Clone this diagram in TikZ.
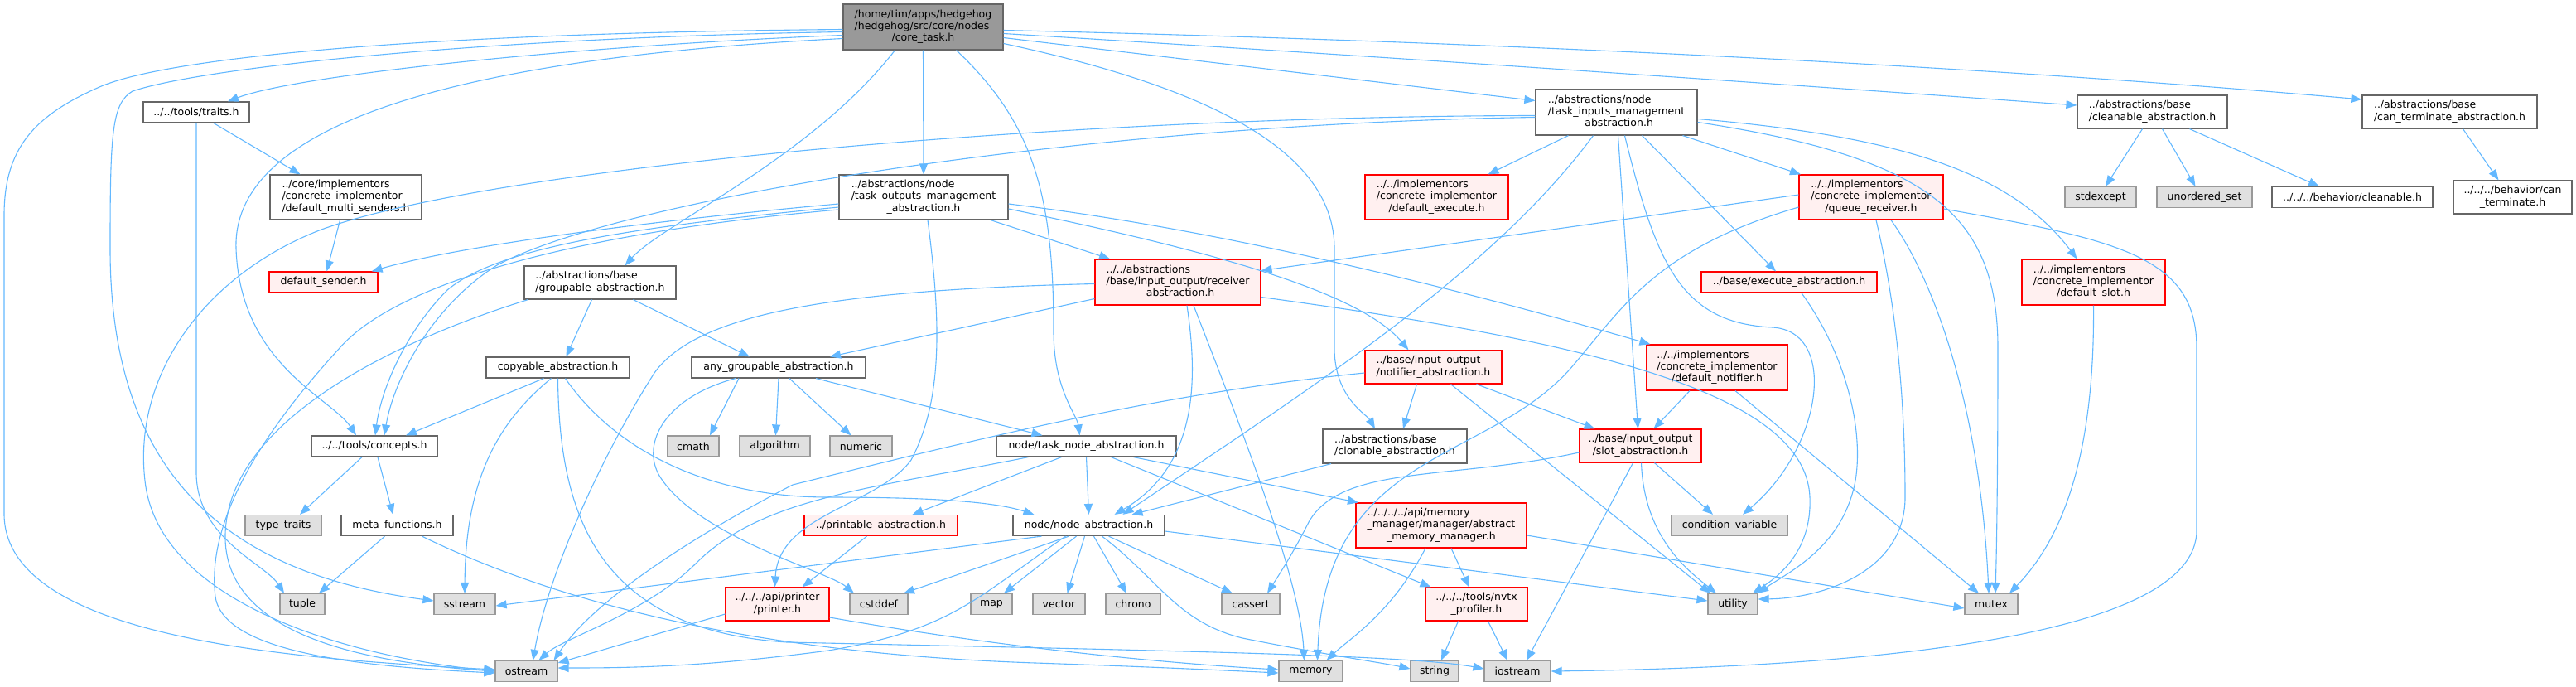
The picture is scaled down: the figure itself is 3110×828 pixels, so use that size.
\documentclass[tikz,border=0pt]{standalone}
\usepackage{fontspec}
\setmainfont{DejaVu Sans}
\usetikzlibrary{arrows.meta}

\definecolor{edgeblue}{HTML}{63B8FF}
\definecolor{boxgray}{HTML}{666666}
\definecolor{redfill}{HTML}{FFF0F0}
\definecolor{sysfill}{HTML}{E0E0E0}
\definecolor{sysgray}{HTML}{999999}
\definecolor{rootfill}{HTML}{999999}

% two / three line labels: upper lines flush left, last line centred
\newcommand{\labtwo}[2]{\begin{tabular}{@{}l@{}}#1\\\multicolumn{1}{@{}c@{}}{#2}\end{tabular}}
\newcommand{\labthree}[3]{\begin{tabular}{@{}l@{}}#1\\#2\\\multicolumn{1}{@{}c@{}}{#3}\end{tabular}}

\begin{document}
\begin{tikzpicture}[
    x=1pt, y=-1pt,
    font=\fontsize{12.5}{14.3}\selectfont,
    box/.style={
        draw=boxgray,
        fill=white,
        line width=1.2pt,
        inner sep=0pt,
        minimum height=25pt
    },
    redbox/.style={box, draw=red, fill=redfill},
    sysbox/.style={box, draw=sysgray, fill=sysfill},
    rootbox/.style={box, draw=boxgray, fill=rootfill},
    arrow/.style={draw=edgeblue, line width=1.1pt, -{Triangle[length=13pt,width=10pt]}}
]
\useasboundingbox (0,0) rectangle (3110,828);

% ---------------------------------------------------------------------------
% Root and first level
% ---------------------------------------------------------------------------
\node[rootbox, minimum width=193pt, minimum height=55pt] (core) at (1114.5,32.5)
    {\labthree{/home/tim/apps/hedgehog}{/hedgehog/src/core/nodes}{/core\_task.h}};

\node[box, minimum width=128pt] (traits) at (237,135.5) {../../tools/traits.h};
\node[box, minimum width=195pt, minimum height=55pt] (inputs) at (1951.5,135.5)
    {\labthree{../abstractions/node}{/task\_inputs\_management}{\_abstraction.h}};
\node[box, minimum width=181pt, minimum height=40pt] (cleanable) at (2598.5,135)
    {\labtwo{../abstractions/base}{/cleanable\_abstraction.h}};
\node[box, minimum width=211pt, minimum height=40pt] (canterm) at (2957.5,135)
    {\labtwo{../abstractions/base}{/can\_terminate\_abstraction.h}};

% ---------------------------------------------------------------------------
% Row at y = 238
% ---------------------------------------------------------------------------
\node[box, minimum width=183pt, minimum height=54pt] (multisend) at (417.5,238)
    {\labthree{../core/implementors}{/concrete\_implementor}{/default\_multi\_senders.h}};
\node[box, minimum width=204pt, minimum height=54pt] (outputs) at (1115,238)
    {\labthree{../abstractions/node}{/task\_outputs\_management}{\_abstraction.h}};
\node[redbox, minimum width=173pt, minimum height=54pt] (defexecute) at (1734.5,238)
    {\labthree{../../implementors}{/concrete\_implementor}{/default\_execute.h}};
\node[redbox, minimum width=174pt, minimum height=54pt] (queue) at (2259,238)
    {\labthree{../../implementors}{/concrete\_implementor}{/queue\_receiver.h}};
\node[sysbox, minimum width=86pt] (stdexcept) at (2536,238) {stdexcept};
\node[sysbox, minimum width=115pt] (unordered) at (2661.5,238) {unordered\_set};
\node[box, minimum width=194pt] (behclean) at (2840,238) {../../../behavior/cleanable.h};
\node[box, minimum width=143pt, minimum height=40pt] (behcanterm) at (3033.5,238)
    {\labtwo{../../../behavior/can}{\_terminate.h}};

% ---------------------------------------------------------------------------
% Row at y = 340
% ---------------------------------------------------------------------------
\node[redbox, minimum width=131pt] (sender) at (390.5,340.5) {default\_sender.h};
\node[box, minimum width=183pt, minimum height=40pt] (groupable) at (724.5,341)
    {\labtwo{../abstractions/base}{/groupable\_abstraction.h}};
\node[redbox, minimum width=200pt, minimum height=55pt] (receiver) at (1422,340.5)
    {\labthree{../../abstractions}{/base/input\_output/receiver}{\_abstraction.h}};
\node[redbox, minimum width=212pt] (execabs) at (2160,340.5) {../base/execute\_abstraction.h};
\node[redbox, minimum width=173pt, minimum height=55pt] (defslot) at (2527.5,340.5)
    {\labthree{../../implementors}{/concrete\_implementor}{/default\_slot.h}};

% ---------------------------------------------------------------------------
% Row at y = 443
% ---------------------------------------------------------------------------
\node[box, minimum width=173pt] (copyable) at (673.5,443.5) {copyable\_abstraction.h};
\node[box, minimum width=210pt] (anygroup) at (940,443.5) {any\_groupable\_abstraction.h};
\node[redbox, minimum width=165pt, minimum height=40pt] (notifier) at (1730.5,443)
    {\labtwo{../base/input\_output}{/notifier\_abstraction.h}};
\node[redbox, minimum width=170pt, minimum height=55pt] (defnotifier) at (2073,443.5)
    {\labthree{../../implementors}{/concrete\_implementor}{/default\_notifier.h}};

% ---------------------------------------------------------------------------
% Row at y = 538
% ---------------------------------------------------------------------------
\node[box, minimum width=152pt] (concepts) at (452,538.5) {../../tools/concepts.h};
\node[sysbox, minimum width=62pt] (cmath) at (837,538.5) {cmath};
\node[sysbox, minimum width=85pt] (algorithm) at (935.5,538.5) {algorithm};
\node[sysbox, minimum width=75pt] (numeric) at (1039.5,538.5) {numeric};
\node[box, minimum width=217pt] (tasknode) at (1311.5,538.5) {node/task\_node\_abstraction.h};
\node[box, minimum width=174pt, minimum height=41pt] (clonable) at (1684,538.5)
    {\labtwo{../abstractions/base}{/clonable\_abstraction.h}};
\node[redbox, minimum width=147pt, minimum height=40pt] (slot) at (1980.5,538)
    {\labtwo{../base/input\_output}{/slot\_abstraction.h}};

% ---------------------------------------------------------------------------
% Row at y = 634
% ---------------------------------------------------------------------------
\node[sysbox, minimum width=92pt] (typetraits) at (342,634) {type\_traits};
\node[box, minimum width=135pt] (metafun) at (479.5,634) {meta\_functions.h};
\node[redbox, minimum width=185pt] (printable) at (1063.5,634) {../printable\_abstraction.h};
\node[box, minimum width=183pt] (nodeabs) at (1314.5,634) {node/node\_abstraction.h};
\node[redbox, minimum width=206pt, minimum height=54pt] (absmem) at (1740,634)
    {\labthree{../../../../api/memory}{\_manager/manager/abstract}{\_memory\_manager.h}};
\node[sysbox, minimum width=140pt] (condvar) at (2088,634) {condition\_variable};

% ---------------------------------------------------------------------------
% Row at y = 729
% ---------------------------------------------------------------------------
\node[sysbox, minimum width=54pt] (tuple) at (365,729) {tuple};
\node[sysbox, minimum width=74pt] (sstream) at (561,729) {sstream};
\node[redbox, minimum width=125pt, minimum height=40pt] (printer) at (938.5,729)
    {\labtwo{../../../api/printer}{/printer.h}};
\node[sysbox, minimum width=70pt] (cstddef) at (1061,729) {cstddef};
\node[sysbox, minimum width=50pt] (map) at (1197,729) {map};
\node[sysbox, minimum width=63pt] (vector) at (1278.5,729) {vector};
\node[sysbox, minimum width=66pt] (chrono) at (1368,729) {chrono};
\node[sysbox, minimum width=70pt] (cassert) at (1510,729) {cassert};
\node[redbox, minimum width=123pt, minimum height=40pt] (nvtx) at (1782.5,729)
    {\labtwo{../../../tools/nvtx}{\_profiler.h}};
\node[sysbox, minimum width=60pt] (utility) at (2092,729) {utility};
\node[sysbox, minimum width=64pt] (mutex) at (2404,729) {mutex};

% ---------------------------------------------------------------------------
% Bottom row
% ---------------------------------------------------------------------------
\node[sysbox, minimum width=75pt] (ostream) at (635.5,810) {ostream};
\node[sysbox, minimum width=77pt] (memory) at (1582.5,810) {memory};
\node[sysbox, minimum width=58pt] (string) at (1732,810) {string};
\node[sysbox, minimum width=80pt] (iostream) at (1832,810) {iostream};

% ---------------------------------------------------------------------------
% Arrows -- from core_task.h
% ---------------------------------------------------------------------------
\draw[arrow] ([yshift=-10pt]core.west) .. controls (700,55) and (360,90) .. ([xshift=38pt]traits.north);
\draw[arrow] ([yshift=-14pt]core.west) .. controls (550,70) and (280,150) .. (285,300)
    .. controls (290,440) and (400,480) .. ([xshift=-22pt]concepts.north);
\draw[arrow] ([yshift=-3pt]core.west) .. controls (500,40) and (200,70) .. (120,105)
    .. controls (40,140) and (5,180) .. (5,260) -- (5,620)
    .. controls (5,770) and (350,795) .. ([yshift=2pt]ostream.west);
\draw[arrow] ([yshift=-6pt]core.west) .. controls (600,45) and (250,80) .. (160,110)
    .. controls (135,125) and (133,160) .. (133,300)
    .. controls (133,560) and (260,690) .. ([yshift=4pt]sstream.west);
\draw[arrow] (core.south) -- (outputs.north);
\draw[arrow] ([xshift=-34pt]core.south) .. controls (980,190) and (800,270) .. ([xshift=30pt]groupable.north);
\draw[arrow] ([xshift=40pt]core.south) .. controls (1250,150) and (1272,240) .. (1272,400)
    .. controls (1272,470) and (1300,500) .. ([xshift=-8pt]tasknode.north);
\draw[arrow] ([yshift=-20pt]core.east) .. controls (1480,110) and (1611,190) .. (1611,300) -- (1611,420)
    .. controls (1611,480) and (1650,500) .. ([xshift=-24pt]clonable.north);
\draw[arrow] ([yshift=-13pt]core.east) -- ([yshift=14pt]inputs.west);
\draw[arrow] ([yshift=-8pt]core.east) .. controls (1700,70) and (2200,105) .. ([yshift=8pt]cleanable.west);
\draw[arrow] ([yshift=-4pt]core.east) .. controls (1800,50) and (2400,80) .. ([yshift=15pt]canterm.west);

% ---------------------------------------------------------------------------
% Arrows -- traits, senders, groupable
% ---------------------------------------------------------------------------
\draw[arrow] ([xshift=21pt]traits.south) -- ([xshift=-55pt]multisend.north);
\draw[arrow] (traits.south) -- (237,570) .. controls (237,650) and (320,680) .. ([xshift=-22pt]tuple.north);
\draw[arrow] ([xshift=-7pt]multisend.south) -- ([xshift=4pt]sender.north);
\draw[arrow] ([xshift=-10pt]groupable.south) -- ([xshift=10pt]copyable.north);
\draw[arrow] ([xshift=40pt]groupable.south) -- ([xshift=-35pt]anygroup.north);
\draw[arrow] ([xshift=5pt]groupable.south west) .. controls (450,420) and (270,520) .. (272,650)
    .. controls (274,770) and (450,800) .. (ostream.west);

% ---------------------------------------------------------------------------
% Arrows -- task_outputs_management_abstraction.h
% ---------------------------------------------------------------------------
\draw[arrow] ([yshift=-8pt]outputs.west) .. controls (800,265) and (560,295) .. ([xshift=-8pt]sender.north east);
\draw[arrow] ([yshift=-12pt]outputs.west) .. controls (750,275) and (600,300) .. (540,350)
    .. controls (490,400) and (460,470) .. ([xshift=1pt]concepts.north);
\draw[arrow] ([yshift=-15pt]outputs.west) .. controls (700,280) and (480,340) .. (410,420)
    .. controls (300,540) and (250,640) .. (260,720)
    .. controls (270,790) and (450,805) .. ([yshift=-2pt]ostream.west);
\draw[arrow] ([xshift=81pt]outputs.south) -- ([xshift=-82pt]receiver.north);
\draw[arrow] ([xshift=5pt]outputs.south) .. controls (1135,380) and (1140,480) .. (1100,555)
    .. controls (1060,610) and (940,620) .. ([xshift=-3pt]printer.north);
\draw[arrow] ([yshift=-14pt]outputs.east) .. controls (1450,300) and (1640,350) .. ([xshift=-30pt]notifier.north);
\draw[arrow] ([yshift=-8pt]outputs.east) .. controls (1500,280) and (1800,360) .. ([xshift=5pt]defnotifier.north west);

% ---------------------------------------------------------------------------
% Arrows -- receiver_abstraction.h
% ---------------------------------------------------------------------------
\draw[arrow] ([yshift=-20pt]receiver.west) -- ([xshift=62pt]anygroup.north);
\draw[arrow] ([yshift=-2pt]receiver.west) .. controls (1000,350) and (840,380) .. (790,450)
    .. controls (720,560) and (660,700) .. ([xshift=8pt]ostream.north);
\draw[arrow] ([xshift=11pt]receiver.south) .. controls (1445,450) and (1450,560) .. ([xshift=31pt]nodeabs.north);
\draw[arrow] ([xshift=19pt]receiver.south) .. controls (1500,520) and (1570,700) .. ([xshift=-8pt]memory.north);
\draw[arrow] ([yshift=-18pt]receiver.east) .. controls (1900,410) and (2180,470) .. (2185,600)
    .. controls (2188,670) and (2140,700) .. ([xshift=24pt]utility.north);

% ---------------------------------------------------------------------------
% Arrows -- task_inputs_management_abstraction.h
% ---------------------------------------------------------------------------
\draw[arrow] ([xshift=-58pt]inputs.south) -- ([xshift=62pt]defexecute.north);
\draw[arrow] ([xshift=80pt]inputs.south) -- ([xshift=-85pt]queue.north);
\draw[arrow] ([xshift=31pt]inputs.south) -- ([xshift=-16pt]execabs.north);
\draw[arrow] ([xshift=2pt]inputs.south) -- ([xshift=-3pt]slot.north);
\draw[arrow] ([xshift=10pt]inputs.south) .. controls (2000,320) and (2030,390) .. (2140,395)
    .. controls (2220,400) and (2200,540) .. ([xshift=16pt]condvar.north);
\draw[arrow] ([xshift=-28pt]inputs.south) .. controls (1800,330) and (1580,470) .. ([xshift=41pt]nodeabs.north);
\draw[arrow] ([yshift=-4pt]inputs.west) .. controls (1300,140) and (600,200) .. (388,277)
    .. controls (250,330) and (160,450) .. (175,580) .. controls (190,720) and (400,790) .. (ostream.west);
\draw[arrow] ([yshift=-6pt]inputs.west) .. controls (1300,150) and (750,240) .. (600,320)
    .. controls (520,370) and (475,460) .. ([xshift=12pt]concepts.north);
\draw[arrow] ([yshift=-8pt]inputs.east) .. controls (2300,165) and (2430,210) .. ([xshift=-20pt]defslot.north);
\draw[arrow] ([yshift=-12pt]inputs.east) .. controls (2330,190) and (2412,260) .. (2412,420)
    .. controls (2412,600) and (2410,680) .. ([xshift=5pt]mutex.north);

% ---------------------------------------------------------------------------
% Arrows -- queue_receiver.h, execute_abstraction.h, default_slot.h
% ---------------------------------------------------------------------------
\draw[arrow] ([yshift=3pt]queue.west) -- ([yshift=14pt]receiver.east);
\draw[arrow] ([yshift=-12pt]queue.west) .. controls (2000,300) and (1960,370) .. (1900,440)
    .. controls (1800,560) and (1600,540) .. ([xshift=8pt]memory.north);
\draw[arrow] ([xshift=6pt]queue.south) .. controls (2285,350) and (2300,460) .. (2300,600)
    .. controls (2300,690) and (2200,722) .. ([yshift=6pt]utility.east);
\draw[arrow] ([xshift=24pt]queue.south) .. controls (2330,330) and (2390,480) .. ([xshift=-3pt]mutex.north);
\draw[arrow] ([yshift=-14pt]queue.east) .. controls (2560,290) and (2652,310) .. (2652,420) -- (2652,640)
    .. controls (2652,770) and (2250,805) .. (iostream.east);
\draw[arrow] ([xshift=15pt]execabs.south) .. controls (2230,430) and (2250,520) .. (2240,580)
    .. controls (2225,660) and (2160,690) .. ([xshift=30pt]utility.north);
\draw[arrow] (defslot.south) .. controls (2529,550) and (2490,650) .. ([xshift=22pt]mutex.north);

% ---------------------------------------------------------------------------
% Arrows -- cleanable and can_terminate
% ---------------------------------------------------------------------------
\draw[arrow] ([xshift=-12pt]cleanable.south) -- ([xshift=6pt]stdexcept.north);
\draw[arrow] ([xshift=12pt]cleanable.south) -- ([xshift=-11pt]unordered.north);
\draw[arrow] ([xshift=45pt]cleanable.south) -- ([xshift=-40pt]behclean.north);
\draw[arrow] ([xshift=16pt]canterm.south) -- ([xshift=-17pt]behcanterm.north);

% ---------------------------------------------------------------------------
% Arrows -- notifier, default_notifier, clonable, slot
% ---------------------------------------------------------------------------
\draw[arrow] ([xshift=-20pt]notifier.south) -- ([xshift=10pt]clonable.north);
\draw[arrow] ([xshift=52pt]notifier.south) -- ([xshift=-55pt]slot.north);
\draw[arrow] ([xshift=21pt]notifier.south) -- ([xshift=-27pt]utility.north);
\draw[arrow] ([yshift=-7pt]notifier.west) .. controls (1400,475) and (1200,525) .. (957,585)
    .. controls (850,640) and (720,720) .. ([xshift=-5pt]ostream.north east);
\draw[arrow] ([xshift=-33pt]defnotifier.south) -- ([xshift=16pt]slot.north);
\draw[arrow] ([xshift=22pt]defnotifier.south) -- ([xshift=-15pt]mutex.north);
\draw[arrow] ([xshift=-77pt]clonable.south) -- ([xshift=52pt]nodeabs.north);
\draw[arrow] ([xshift=17pt]slot.south) -- ([xshift=-20pt]condvar.north);
\draw[arrow] ([xshift=1pt]slot.south) .. controls (1985,650) and (2040,690) .. ([xshift=-20pt]utility.north);
\draw[arrow] ([xshift=-9pt]slot.south) -- ([xshift=11pt]iostream.north);
\draw[arrow] ([yshift=-8pt]slot.west) .. controls (1750,580) and (1620,560) .. (1580,630)
    .. controls (1560,670) and (1540,700) .. ([xshift=20pt]cassert.north);

% ---------------------------------------------------------------------------
% Arrows -- memory manager and profiler
% ---------------------------------------------------------------------------
\draw[arrow] ([xshift=12pt]absmem.south) -- ([xshift=-9pt]nvtx.north);
\draw[arrow] ([xshift=-19pt]absmem.south) .. controls (1680,740) and (1630,770) .. ([xshift=19pt]memory.north);
\draw[arrow] ([yshift=-12pt]absmem.east) -- ([yshift=-5pt]mutex.west);
\draw[arrow] ([xshift=-22pt]nvtx.south) -- ([xshift=8pt]string.north);
\draw[arrow] ([xshift=14pt]nvtx.south) -- ([xshift=-12pt]iostream.north);

% ---------------------------------------------------------------------------
% Arrows -- copyable, concepts, meta_functions
% ---------------------------------------------------------------------------
\draw[arrow] ([xshift=-17pt]copyable.south) -- ([xshift=38pt]concepts.north);
\draw[arrow] ([xshift=-8pt]copyable.south) .. controls (600,510) and (562,580) .. (sstream.north);
\draw[arrow] (copyable.south) .. controls (675,620) and (720,760) .. (950,775)
    .. controls (1400,785) and (1700,790) .. ([yshift=3pt]iostream.west);
\draw[arrow] ([xshift=9pt]copyable.south) .. controls (740,540) and (850,600) .. (1000,600)
    .. controls (1120,600) and (1200,605) .. ([xshift=-66pt]nodeabs.north);
\draw[arrow] ([xshift=-15pt]concepts.south) -- ([xshift=20pt]typetraits.north);
\draw[arrow] ([xshift=4pt]concepts.south) -- ([xshift=-5pt]metafun.north);
\draw[arrow] ([xshift=-15pt]metafun.south) -- ([xshift=20pt]tuple.north);
\draw[arrow] ([xshift=30pt]metafun.south) .. controls (700,740) and (950,790) .. (1250,800)
    .. controls (1400,805) and (1500,810) .. ([yshift=-2pt]memory.west);

% ---------------------------------------------------------------------------
% Arrows -- any_groupable and task_node
% ---------------------------------------------------------------------------
\draw[arrow] ([xshift=-48pt]anygroup.south) -- ([xshift=20pt]cmath.north);
\draw[arrow] (anygroup.south) -- ([xshift=1pt]algorithm.north);
\draw[arrow] ([xshift=13pt]anygroup.south) -- ([xshift=-12pt]numeric.north);
\draw[arrow] ([xshift=45pt]anygroup.south) -- ([xshift=-53pt]tasknode.north);
\draw[arrow] ([xshift=-52pt]anygroup.south) .. controls (800,480) and (770,540) .. (800,580)
    .. controls (850,650) and (1000,690) .. ([xshift=-30pt]cstddef.north);
\draw[arrow] ([xshift=-30pt]tasknode.south) -- ([xshift=38pt]printable.north);
\draw[arrow] (tasknode.south) -- (nodeabs.north);
\draw[arrow] ([xshift=-70pt]tasknode.south) .. controls (1050,590) and (920,600) .. (840,680)
    .. controls (780,740) and (680,770) .. ([xshift=15pt]ostream.north);
\draw[arrow] ([xshift=57pt]tasknode.south) -- ([xshift=-100pt]absmem.north);
\draw[arrow] ([xshift=30pt]tasknode.south) -- ([xshift=-55pt]nvtx.north);

% ---------------------------------------------------------------------------
% Arrows -- node_abstraction.h
% ---------------------------------------------------------------------------
\draw[arrow] ([xshift=-57pt]nodeabs.south) -- ([yshift=-2pt]sstream.east);
\draw[arrow] ([xshift=-28pt]nodeabs.south) .. controls (1180,720) and (1150,760) .. (1000,785)
    .. controls (850,805) and (760,806) .. ([yshift=4pt]ostream.east);
\draw[arrow] ([xshift=-24pt]nodeabs.south) -- ([xshift=30pt]cstddef.north);
\draw[arrow] ([xshift=-15pt]nodeabs.south) -- ([xshift=15pt]map.north);
\draw[arrow] ([xshift=-5pt]nodeabs.south) -- ([xshift=10pt]vector.north);
\draw[arrow] ([xshift=6pt]nodeabs.south) -- ([xshift=-8pt]chrono.north);
\draw[arrow] ([xshift=24pt]nodeabs.south) -- ([xshift=-22pt]cassert.north);
\draw[arrow] ([xshift=16pt]nodeabs.south) .. controls (1400,700) and (1420,750) .. (1500,770)
    .. controls (1600,790) and (1670,800) .. ([yshift=3pt]string.west);
\draw[arrow] ([yshift=-7pt]nodeabs.east) -- ([yshift=4pt]utility.west);

% ---------------------------------------------------------------------------
% Arrows -- printer
% ---------------------------------------------------------------------------
\draw[arrow] ([xshift=-17pt]printable.south) -- ([xshift=30pt]printer.north);
\draw[arrow] ([yshift=-12pt]printer.west) -- ([yshift=10pt]ostream.east);
\draw[arrow] ([yshift=-16pt]printer.east) .. controls (1200,780) and (1400,800) .. ([yshift=2pt]memory.west);

\end{tikzpicture}
\end{document}
